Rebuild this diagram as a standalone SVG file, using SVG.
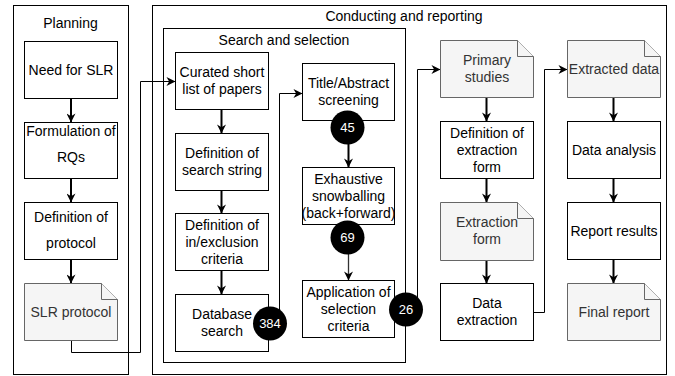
<svg xmlns="http://www.w3.org/2000/svg" width="675" height="376" viewBox="0 0 675 376">
<style>
.c{fill:none;stroke:#000;stroke-width:1}
.b{fill:#fff;stroke:#000;stroke-width:1}
.d{fill:#f5f5f5;stroke:#666;stroke-width:1}
.t{font-family:"Liberation Sans",Arial,sans-serif;font-size:14px;fill:#000;text-anchor:middle}
.dt{fill:#333}
.n{fill:#000;stroke:none}
.nt{font-family:"Liberation Sans",Arial,sans-serif;font-size:13px;fill:#fff;text-anchor:middle}
.e{fill:none;stroke:#000;stroke-width:2}
.g{fill:none;stroke:#333;stroke-width:1.3}
</style>
<defs>
<marker id="a" viewBox="0 0 10 10" refX="9.5" refY="5" markerWidth="9" markerHeight="9" markerUnits="userSpaceOnUse" orient="auto">
<path d="M0,0 L10,5 L0,10 L3,5 z" fill="#000"/>
</marker>
</defs>

<g id="planning">
<rect class="c" x="13.5" y="5.5" width="115" height="369"/>
<text class="t" x="70.5" y="28">Planning</text>
</g>
<g id="conducting">
<rect class="c" x="152.5" y="5.5" width="514" height="369"/>
<text class="t" x="404" y="21">Conducting and reporting</text>
</g>
<g id="search">
<rect class="c" x="163.5" y="28.5" width="242" height="334"/>
<text class="t" x="284" y="45">Search and selection</text>
</g>

<g id="edges">
<path class="e" d="M71,98 V122" marker-end="url(#a)"/>
<path class="e" d="M71,178 V202" marker-end="url(#a)"/>
<path class="e" d="M71,259 V283" marker-end="url(#a)"/>
<path class="c" d="M71.5,340 V352.5 H140.5 V81.5 H175" marker-end="url(#a)"/>
<path class="e" d="M221.5,109 V133" marker-end="url(#a)"/>
<path class="e" d="M221.5,190 V213" marker-end="url(#a)"/>
<path class="e" d="M221.5,271 V294" marker-end="url(#a)"/>
<path class="c" d="M268,323.5 H279.5 V93.5 H302" marker-end="url(#a)"/>
<path class="e" d="M348.5,121 V167" marker-end="url(#a)"/>
<path class="g" d="M348.5,225 V280" marker-end="url(#a)"/>
<path class="c" d="M395,309.5 H417.5 V69.5 H440" marker-end="url(#a)"/>
<path class="e" d="M486.5,97 V121" marker-end="url(#a)"/>
<path class="e" d="M486.5,178 V202" marker-end="url(#a)"/>
<path class="e" d="M486.5,260 V283" marker-end="url(#a)"/>
<path class="c" d="M533,312.5 H544.5 V69.5 H567" marker-end="url(#a)"/>
<path class="e" d="M613.5,97 V121" marker-end="url(#a)"/>
<path class="e" d="M613.5,178 V202" marker-end="url(#a)"/>
<path class="e" d="M613.5,260 V283" marker-end="url(#a)"/>
</g>

<g id="need">
<rect class="b" x="24.5" y="41.5" width="93" height="57"/>
<text class="t" x="71" y="75">Need for SLR</text>
</g>
<g id="formulation">
<rect class="b" x="24.5" y="122.5" width="93" height="56"/>
<text class="t" x="71" y="136">Formulation of</text>
<text class="t" x="71" y="162">RQs</text>
</g>
<g id="defprotocol">
<rect class="b" x="24.5" y="202.5" width="93" height="57"/>
<text class="t" x="71" y="222">Definition of</text>
<text class="t" x="71" y="248">protocol</text>
</g>
<g id="slrprotocol">
<path class="d" d="M24.5,283.5 H101.5 L117.5,299.5 V340.5 H24.5 Z"/>
<path class="d" d="M101.5,283.5 V299.5 H117.5" fill="none"/>
<text class="t dt" x="71" y="317">SLR protocol</text>
</g>

<g id="curated">
<rect class="b" x="175.5" y="52.5" width="93" height="57"/>
<text class="t" x="222" y="77">Curated short</text>
<text class="t" x="222" y="94">list of papers</text>
</g>
<g id="searchstring">
<rect class="b" x="175.5" y="133.5" width="93" height="57"/>
<text class="t" x="222" y="158">Definition of</text>
<text class="t" x="222" y="175">search string</text>
</g>
<g id="inexclusion">
<rect class="b" x="175.5" y="213.5" width="93" height="57"/>
<text class="t" x="222" y="230">Definition of</text>
<text class="t" x="222" y="247">in/exclusion</text>
<text class="t" x="222" y="264">criteria</text>
</g>
<g id="database">
<rect class="b" x="175.5" y="294.5" width="93" height="57"/>
<text class="t" x="222" y="319">Database</text>
<text class="t" x="222" y="336">search</text>
</g>
<g id="title">
<rect class="b" x="302.5" y="63.5" width="92" height="57"/>
<text class="t" x="348.5" y="88">Title/Abstract</text>
<text class="t" x="348.5" y="105">screening</text>
</g>
<g id="snowball">
<rect class="b" x="302.5" y="167.5" width="92" height="57"/>
<text class="t" x="348.5" y="184">Exhaustive</text>
<text class="t" x="348.5" y="201">snowballing</text>
<text class="t" x="348.5" y="218">(back+forward)</text>
</g>
<g id="application">
<rect class="b" x="302.5" y="280.5" width="92" height="57"/>
<text class="t" x="348.5" y="297">Application of</text>
<text class="t" x="348.5" y="314">selection</text>
<text class="t" x="348.5" y="331">criteria</text>
</g>

<g id="n45"><circle class="n" cx="347.5" cy="127.5" r="17"/><text class="nt" x="347.5" y="132">45</text></g>
<g id="n69"><circle class="n" cx="347.5" cy="237.5" r="17"/><text class="nt" x="347.5" y="242">69</text></g>
<g id="n384"><circle class="n" cx="270" cy="323.5" r="17"/><text class="nt" x="270" y="328">384</text></g>
<g id="n26"><circle class="n" cx="406" cy="309.5" r="17"/><text class="nt" x="406" y="314">26</text></g>

<g id="primary">
<path class="d" d="M440.5,40.5 H517.5 L533.5,56.5 V97.5 H440.5 Z"/>
<path class="d" d="M517.5,40.5 V56.5 H533.5" fill="none"/>
<text class="t dt" x="487" y="65">Primary</text>
<text class="t dt" x="487" y="82">studies</text>
</g>
<g id="defform">
<rect class="b" x="440.5" y="121.5" width="93" height="57"/>
<text class="t" x="487" y="138">Definition of</text>
<text class="t" x="487" y="155">extraction</text>
<text class="t" x="487" y="172">form</text>
</g>
<g id="form">
<path class="d" d="M440.5,202.5 H517.5 L533.5,218.5 V260.5 H440.5 Z"/>
<path class="d" d="M517.5,202.5 V218.5 H533.5" fill="none"/>
<text class="t dt" x="487" y="227">Extraction</text>
<text class="t dt" x="487" y="244">form</text>
</g>
<g id="dataextraction">
<rect class="b" x="440.5" y="283.5" width="93" height="57"/>
<text class="t" x="487" y="308">Data</text>
<text class="t" x="487" y="325">extraction</text>
</g>
<g id="extracted">
<path class="d" d="M567.5,40.5 H644.5 L660.5,56.5 V97.5 H567.5 Z"/>
<path class="d" d="M644.5,40.5 V56.5 H660.5" fill="none"/>
<text class="t dt" x="614" y="74">Extracted data</text>
</g>
<g id="analysis">
<rect class="b" x="567.5" y="121.5" width="93" height="57"/>
<text class="t" x="614" y="155">Data analysis</text>
</g>
<g id="report">
<rect class="b" x="567.5" y="202.5" width="93" height="57"/>
<text class="t" x="614" y="236">Report results</text>
</g>
<g id="final">
<path class="d" d="M567.5,283.5 H644.5 L660.5,299.5 V340.5 H567.5 Z"/>
<path class="d" d="M644.5,283.5 V299.5 H660.5" fill="none"/>
<text class="t dt" x="614" y="317">Final report</text>
</g>
</svg>
